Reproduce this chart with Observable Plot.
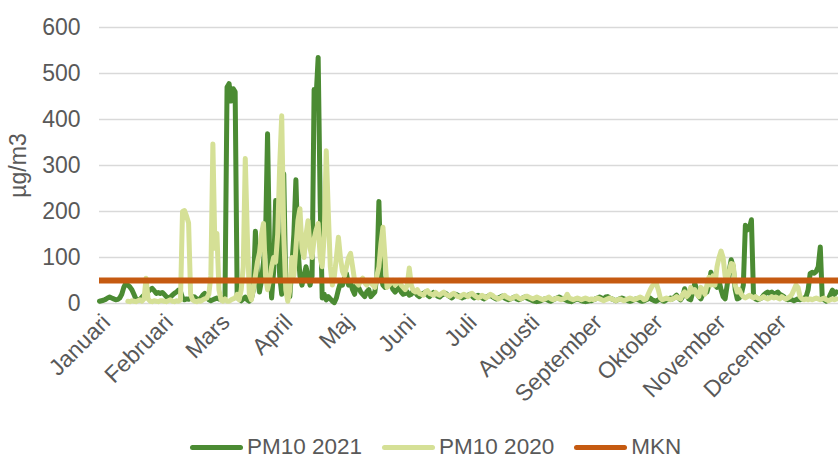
<!DOCTYPE html>
<html><head><meta charset="utf-8">
<script src="https://cdn.jsdelivr.net/npm/d3@7"></script>
<script src="https://cdn.jsdelivr.net/npm/@observablehq/plot@0.6"></script>
<style>
body{margin:0;background:#fff;}
#wrap{position:relative;width:838px;height:458px;font-family:"Liberation Sans",Arial,sans-serif;overflow:hidden;}
#legend{position:absolute;left:190px;top:434px;display:flex;align-items:center;font-size:22.5px;color:#595959;white-space:nowrap;line-height:26px;}
.item{display:flex;align-items:center;margin-right:20px}
.sw{display:inline-block;width:53px;height:5px;border-radius:3px;margin-right:4px}
</style></head><body><div id="wrap"></div>
<script>
const months = ["Januari","Februari","Mars","April","Maj","Juni","Juli","Augusti","September","Oktober","November","December"];
const yTicks = [0,100,200,300,400,500,600];
const mkn = 50;

// PM10 2021, daily values per month
const jan21 = [5,6,7,9,12,14,12,10,8,9,12,20,35,44,40,36,30,20,10,7,9,14,18,22,26,30,33,28,22,24,22];
const feb21 = [24,20,15,12,14,18,22,25,29,26,12,8,10,9,12,15,14,10,8,12,18,22,14,8,6,8,10,12];
const mar21 = [10,8,12,15,470,478,440,467,460,12,12,6,10,14,8,5,10,30,157,60,25,50,90,140,369,110,12,70,224,150,60];
const apr21 = [20,282,40,30,15,80,150,269,120,60,40,60,80,60,40,60,465,450,535,217,12,20,8,15,10,5,2,12,30,45];
const may21 = [40,55,65,40,45,30,20,45,35,25,20,15,25,30,15,20,25,60,222,60,40,35,45,50,40,30,25,30,35,25,20];
const jun21 = [22,25,18,20,28,24,18,15,20,22,25,18,15,20,24,20,16,14,18,20,22,18,15,12,16,20,18,15,12,14];
const jul21 = [15,18,20,16,12,14,18,15,12,10,14,16,18,15,12,10,12,14,16,12,10,8,10,12,14,10,8,10,12,14,12];
const aug21 = [10,8,6,5,4,5,6,8,10,8,6,5,8,10,12,14,12,10,8,6,5,4,6,8,10,8,6,5,4,5,6];
const sep21 = [6,8,10,12,14,12,10,14,15,12,10,8,6,8,10,12,10,8,6,5,6,8,10,8,6,5,6,8,10,12];
const oct21 = [8,6,5,8,10,6,5,8,10,12,10,14,18,12,8,15,32,20,10,8,25,44,30,15,10,20,30,25,40,68,45];
const nov21 = [40,35,50,30,15,10,40,70,95,80,30,10,12,20,40,170,160,165,182,20,10,8,10,12,18,22,25,22,25,20];
const dec21 = [22,25,20,18,15,10,8,10,8,6,8,10,8,10,12,15,30,65,68,66,70,80,123,10,8,5,10,20,29,20,25];

// PM10 2020, daily values per month
const jan20 = [null,null,null,null,null,null,null,null,null,null,null,null,null,null,5,4,6,5,4,6,8,5,10,55,10,5,4,6,5,4,6];
const feb20 = [6,5,4,6,8,5,4,6,5,8,200,202,190,175,20,8,5,4,6,5,8,10,12,20,60,347,120,152];
const mar20 = [30,8,5,10,5,5,8,10,12,20,8,30,80,315,150,20,8,30,60,90,110,150,174,60,30,50,80,100,90,150,300];
const apr20 = [408,150,30,5,30,100,60,120,180,206,120,100,150,180,120,100,140,160,174,100,80,150,332,200,80,40,60,100,144,100];
const may20 = [70,60,80,100,109,80,50,45,40,50,55,45,40,50,45,40,35,60,80,130,166,100,35,40,45,50,40,45,50,40,35];
const jun20 = [30,40,77,40,28,25,30,22,20,18,25,28,22,20,18,24,20,18,22,25,20,18,16,20,22,18,15,14,18,20];
const jul20 = [18,15,20,22,18,15,12,14,18,15,12,16,20,18,14,12,10,12,15,18,14,12,10,12,14,16,12,10,12,14,16];
const aug20 = [14,12,10,12,14,12,10,8,10,12,14,10,8,10,12,10,8,10,12,20,12,10,8,10,12,10,8,10,12,10,8];
const sep20 = [10,8,10,12,10,8,6,8,10,12,10,8,6,8,10,8,6,8,10,12,10,8,10,12,14,12,8,10,20,30];
const oct20 = [38,42,44,30,12,8,10,12,10,8,10,12,15,12,10,20,25,15,20,35,25,30,20,15,35,30,20,40,57,40,60];
const nov20 = [40,80,100,114,100,60,50,70,87,85,40,25,30,20,15,12,15,18,15,12,15,12,10,12,15,12,10,12,15,12];
const dec20 = [14,12,10,15,12,10,12,15,20,30,40,35,15,10,8,10,8,10,8,10,12,10,8,10,12,8,6,8,10,8,10];

const m21 = [jan21,feb21,mar21,apr21,may21,jun21,jul21,aug21,sep21,oct21,nov21,dec21];
const m20 = [jan20,feb20,mar20,apr20,may20,jun20,jul20,aug20,sep20,oct20,nov20,dec20];
const pm10_2021 = m21.flat();
const pm10_2020 = m20.flat();
const monthStarts = [];
m21.reduce((acc, m) => { monthStarts.push(acc); return acc + m.length; }, 0);

const rows21 = pm10_2021.map((v, i) => ({day: i, v}));
const rows20 = pm10_2020.map((v, i) => ({day: i, v}));

const grey = "#595959";
const chart = Plot.plot({
  width: 838, height: 420,
  marginTop: 27, marginBottom: 117, marginLeft: 99, marginRight: 0,
  style: {fontFamily: "'Liberation Sans', Arial, sans-serif", fontSize: "23px", color: grey, background: "white"},
  x: {domain: [0, 365], axis: null},
  y: {domain: [0, 600], axis: null, label: null},
  marks: [
    Plot.gridY(yTicks, {stroke: "#d9d9d9", strokeOpacity: 1, strokeWidth: 1.5}),
    Plot.axisY(yTicks, {tickSize: 0, tickPadding: 19, fontSize: 23, fill: grey, label: null}),
    Plot.lineY(rows21, {x: "day", y: "v", stroke: "#4b8b33", strokeWidth: 5, strokeLinejoin: "round", strokeLinecap: "round"}),
    Plot.lineY(rows20, {x: "day", y: "v", stroke: "#d5e096", strokeWidth: 5, strokeLinejoin: "round", strokeLinecap: "round"}),
    Plot.ruleY([mkn], {stroke: "#c55a11", strokeWidth: 6}),
    Plot.text(monthStarts, {x: d => d, frameAnchor: "bottom", text: (d, i) => months[i], rotate: -45, textAnchor: "end", lineAnchor: "middle", dx: 7, dy: 15, fontSize: 23, fill: grey}),
    Plot.text(["µg/m3"], {frameAnchor: "left", text: d => d, textAnchor: "middle", dx: -81, rotate: -90, fontSize: 23, fill: grey})
  ]
});
const wrap = document.getElementById("wrap");
wrap.appendChild(chart);

const legendItems = [
  {name: "PM10 2021", color: "#4b8b33"},
  {name: "PM10 2020", color: "#d5e096"},
  {name: "MKN", color: "#c55a11"}
];
const legend = document.createElement("div");
legend.id = "legend";
legendItems.forEach(it => {
  const item = document.createElement("div");
  item.className = "item";
  const sw = document.createElement("span");
  sw.className = "sw";
  sw.style.background = it.color;
  item.appendChild(sw);
  item.appendChild(document.createTextNode(it.name));
  legend.appendChild(item);
});
wrap.appendChild(legend);
</script>
</body></html>
